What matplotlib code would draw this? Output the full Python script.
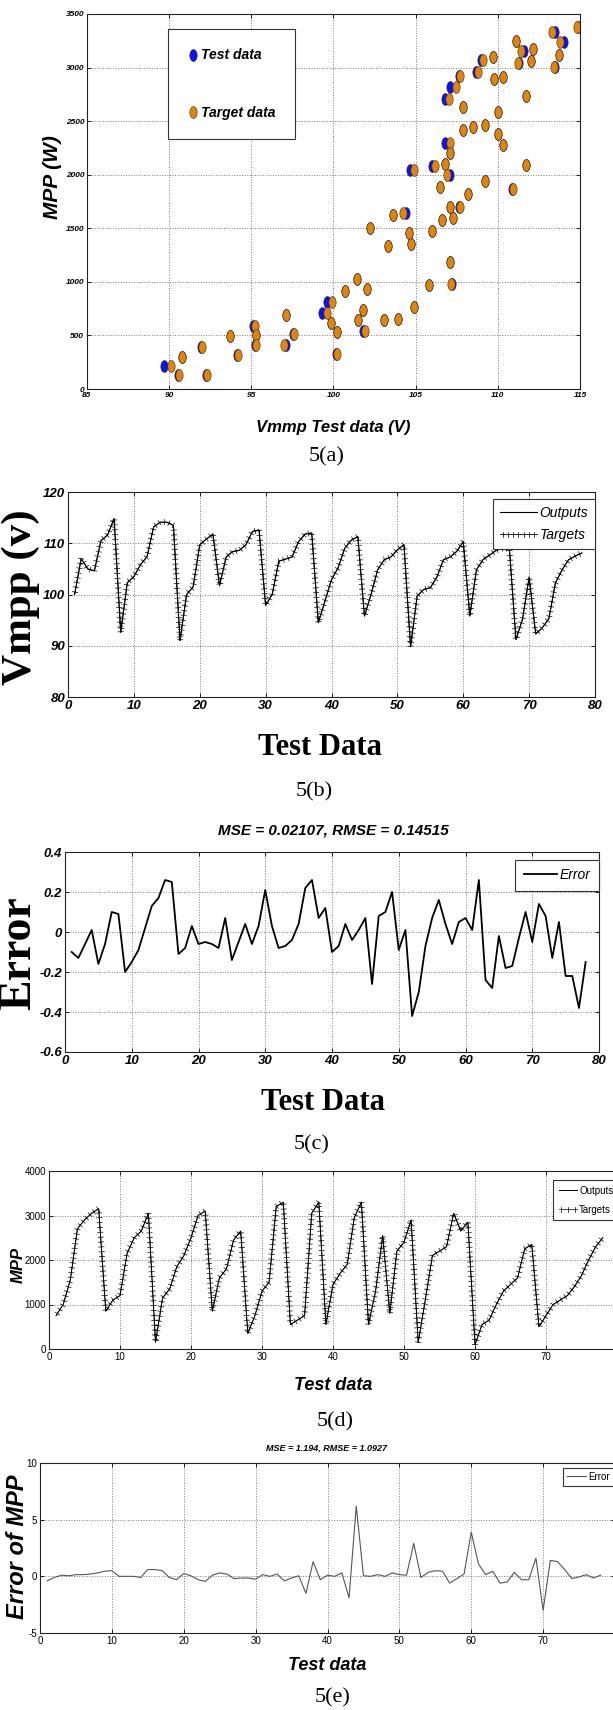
import numpy as np
import matplotlib
matplotlib.use('Agg')
import matplotlib.pyplot as plt
import matplotlib.patheffects as pe
from matplotlib.ticker import FuncFormatter

plt.rcParams['axes.unicode_minus'] = False

W, H = 613, 1710
NARROW = ['Liberation Sans Narrow', 'Liberation Sans', 'DejaVu Sans']
SANS = ['Liberation Sans', 'DejaVu Sans']
SERIF = ['Liberation Serif', 'DejaVu Serif']

# ---- 5(a): MPP against Vmpp, test vs target ----
vmmp_target = [114.8, 113.3, 113.8, 113.7, 113.4, 111.1, 111.4, 112.15, 111.2, 112.0,
               111.7, 111.7, 110.9, 109.7, 109.1, 108.8, 109.75, 110.3, 110.0, 110.0,
               110.3, 109.2, 108.5, 107.9, 107.9, 109.2, 108.2, 107.7, 107.45, 107.0,
               107.1, 107.1, 106.8, 106.9, 106.2, 106.5, 106.6, 107.3, 107.1, 107.7,
               104.9, 103.6, 104.2, 102.2, 104.6, 106.0, 103.3, 104.7, 107.1, 101.4,
               105.8, 107.15, 100.7, 102.05, 99.9, 99.6, 101.8, 104.9, 99.85, 101.5,
               103.1, 103.9, 100.2, 101.9, 95.2, 95.3, 95.3, 97.1, 97.0, 97.6,
               100.2, 93.7, 94.2, 92.0, 92.3, 90.8, 90.6, 90.1]
vmmp_test = [114.85, 113.5, 114.0, 113.7, 113.45, 111.1, 111.6, 112.15, 111.3, 112.0,
             111.7, 111.7, 110.85, 109.7, 109.0, 108.7, 109.75, 110.3, 110.0, 110.0,
             110.3, 109.2, 108.5, 107.9, 107.9, 109.2, 108.2, 107.65, 107.1, 106.8,
             106.8, 107.1, 106.8, 107.1, 106.0, 106.5, 106.6, 107.3, 107.1, 107.65,
             104.66, 103.6, 104.4, 102.2, 104.6, 106.0, 103.3, 104.7, 107.1, 101.4,
             105.8, 107.2, 100.7, 102.05, 99.6, 99.3, 101.8, 104.9, 99.85, 101.5,
             103.05, 103.9, 100.2, 101.8, 95.1, 95.3, 95.25, 97.1, 97.1, 97.55,
             100.15, 93.7, 94.15, 91.95, 92.25, 90.8, 90.55, 89.7]
mpp_points = [3376, 3335, 3242, 3118, 3003, 3252, 3158, 3174, 3040, 3059,
              2733, 2093, 1866, 3096, 3071, 2963, 2891, 2910, 2584, 2376,
              2276, 2463, 2444, 2419, 2630, 1938, 1817, 2922, 2817, 2705,
              2295, 2205, 2096, 1994, 2078, 1888, 1581, 1599, 1696, 1699,
              2040, 1627, 1643, 1505, 1452, 1476, 1337, 1356, 1187, 1022,
              972, 984, 916, 931, 809, 709, 734, 762, 619, 641,
              644, 656, 528, 538, 584, 500, 406, 694, 413, 516,
              331, 491, 316, 391, 128, 303, 128, 213]

# ---- 5(b) / 5(c): Vmpp over the test samples and its error ----
sample = list(range(1, 79))
vmpp_targets = [100.0, 107.0, 105.0, 104.6, 110.5, 111.6, 114.8, 92.6, 102.3, 103.5,
                105.8, 107.4, 113.2, 114.1, 114.1, 113.5, 91.0, 100.0, 101.5, 109.7,
                110.8, 111.8, 101.7, 107.3, 108.4, 108.6, 109.7, 112.3, 112.6, 97.9,
                100.0, 106.5, 106.9, 107.3, 110.3, 111.8, 112.0, 94.5, 98.7, 102.9,
                105.2, 109.0, 110.6, 111.3, 95.8, 100.0, 104.8, 106.8, 107.3, 108.7,
                109.7, 89.8, 99.7, 101.0, 101.3, 103.4, 106.8, 107.3, 108.4, 110.3,
                95.8, 104.8, 106.8, 107.7, 108.6, 109.0, 109.0, 91.2, 95.2, 103.4,
                92.3, 93.5, 95.3, 102.3, 104.8, 106.8, 107.5, 108.1]
vmpp_outputs = list(vmpp_targets)  # indistinguishable from the targets at this scale
vmpp_error = [-0.10, -0.13, -0.06, 0.01, -0.16, -0.06, 0.10, 0.09, -0.20, -0.15,
              -0.09, 0.02, 0.13, 0.17, 0.26, 0.25, -0.11, -0.08, 0.03, -0.06,
              -0.05, -0.06, -0.08, 0.07, -0.14, -0.05, 0.04, -0.06, 0.03, 0.21,
              0.03, -0.08, -0.07, -0.04, 0.04, 0.22, 0.26, 0.07, 0.12, -0.10,
              -0.07, 0.04, -0.04, 0.01, 0.07, -0.26, 0.08, 0.10, 0.20, -0.09,
              0.01, -0.42, -0.30, -0.07, 0.07, 0.16, 0.04, -0.06, 0.05, 0.07,
              0.01, 0.26, -0.24, -0.28, -0.02, -0.18, -0.17, -0.03, 0.10, -0.05,
              0.14, 0.08, -0.13, 0.05, -0.22, -0.22, -0.38, -0.15]

# ---- 5(d) / 5(e): MPP over the test samples and its error ----
mpp_targets = [750, 1000, 1550, 2700, 2900, 3050, 3150, 850, 1100, 1200,
               2150, 2500, 2650, 3050, 150, 1150, 1350, 1850, 2100, 2500,
               3000, 3100, 850, 1600, 1800, 2450, 2650, 350, 750, 1300,
               1500, 3200, 3300, 550, 650, 750, 3050, 3300, 550, 1450,
               1700, 1900, 2950, 3300, 550, 1300, 2550, 800, 2200, 2400,
               2900, 150, 1100, 2100, 2200, 2300, 3050, 2650, 2850, 100,
               550, 650, 1000, 1300, 1450, 1600, 2250, 2350, 500, 750,
               1000, 1100, 1200, 1400, 1650, 2000, 2300, 2500]
mpp_outputs = list(mpp_targets)
mpp_error = [-0.4, -0.1, 0.1, 0.05, 0.15, 0.15, 0.2, 0.3, 0.45, 0.5,
             0.0, 0.0, 0.0, -0.1, 0.6, 0.6, 0.5, -0.1, -0.3, 0.25,
             0.05, -0.3, -0.45, 0.1, 0.3, 0.2, -0.2, -0.15, -0.15, -0.25,
             0.15, 0.0, 0.2, -0.4, -0.15, 0.05, -1.5, 1.3, -0.3, 0.1,
             0.0, 0.3, -1.9, 6.2, 0.05, 0.0, 0.15, 0.0, 0.3, 0.15,
             0.1, 2.9, -0.1, 0.35, 0.5, 0.45, -0.6, -0.2, 0.2, 3.9,
             1.1, 0.15, 0.45, -0.6, -0.5, 0.35, -0.3, -0.3, 1.6, -3.0,
             1.4, 1.3, 0.6, -0.2, -0.05, 0.15, -0.15, 0.1]

fig = plt.figure(figsize=(W / 100, H / 100), dpi=100)


def box(l, t, r, b):
    return fig.add_axes([l / W, 1 - b / H, (r - l) / W, (b - t) / H])


def put(px, py, s, **kw):
    fig.text(px / W, 1 - py / H, s, ha='center', va='center', **kw)


def style(ax, size, weight='normal', fstyle='italic'):
    ax.grid(True, ls=':', color='#777777', lw=0.7)
    ax.set_axisbelow(True)
    ax.tick_params(direction='in', length=3, width=0.6, top=True, right=True,
                   labelsize=size, pad=2)
    for lab in ax.get_xticklabels() + ax.get_yticklabels():
        lab.set_family(NARROW)
        lab.set_weight(weight)
        lab.set_style(fstyle)
    for sp in ax.spines.values():
        sp.set_linewidth(0.8)
        sp.set_color('#222222')


def leg(ax, x, y, loc, size, weight='normal', **kw):
    lg = ax.legend(loc=loc, bbox_to_anchor=(x / W, 1 - y / H), bbox_transform=fig.transFigure,
                   prop=dict(family=NARROW, size=size, weight=weight, style='italic'),
                   fancybox=False, framealpha=1, edgecolor='#333333', borderaxespad=0, **kw)
    lg.get_frame().set_linewidth(0.8)
    return lg


ticked = [pe.Stroke(),
          pe.TickedStroke(spacing=3.5, angle=90, length=0.55, linewidth=0.5),
          pe.TickedStroke(spacing=3.5, angle=-90, length=0.55, linewidth=0.5)]

# ---------------- 5(a) ----------------
t = np.linspace(0, 2 * np.pi, 40)
ell = np.column_stack([0.62 * np.cos(t), np.sin(t)])
ax = box(87, 14, 580, 389)
ax.plot(vmmp_test, mpp_points, ls='none', marker=ell, ms=8.5, mfc='#0a14f0',
        mec='#202040', mew=0.4, label='Test data')
ax.plot(vmmp_target, mpp_points, ls='none', marker=ell, ms=8.5, mfc='#e08410',
        mec='#3a2a10', mew=0.4, label='Target data')
ax.set_xlim(85, 115)
ax.set_ylim(0, 3500)
ax.set_xticks(range(85, 116, 5))
ax.set_yticks(range(0, 3501, 500))
style(ax, 6, weight='bold')
leg(ax, 168, 29, 'upper left', 10, weight='bold', labelspacing=3.1, borderpad=1.4,
    handletextpad=0.2, handlelength=0.8, numpoints=1)
put(53, 177, 'MPP (W)', rotation=90, family=SANS, weight='bold', style='italic', fontsize=15)
put(333, 427, 'Vmmp Test data (V)', family=NARROW, weight='bold', style='italic', fontsize=12)
put(327, 457, '5(a)', family=SERIF, fontsize=16)

# ---------------- 5(b) ----------------
ax = box(68, 492, 595, 697)
ax.plot(sample, vmpp_outputs, color='k', lw=0.8, label='Outputs')
ax.plot(sample, vmpp_targets, color='k', lw=0.6, path_effects=ticked, label='Targets')
ax.set_xlim(0, 80)
ax.set_ylim(80, 120)
ax.set_xticks(range(0, 81, 10))
ax.set_yticks(range(80, 121, 10))
style(ax, 9.5, weight='bold')
leg(ax, 595, 499, 'upper right', 10, handlelength=2.6, handletextpad=0.2,
    borderpad=0.5, labelspacing=0.6)
put(21, 597, 'Vmpp (v)', rotation=90, family=SERIF, weight='bold', fontsize=31)
put(320, 747, 'Test Data', family=SERIF, weight='bold', fontsize=22)
put(314, 792, '5(b)', family=SERIF, fontsize=16)

# ---------------- 5(c) ----------------
ax = box(65, 852, 599, 1052)
ax.plot(sample, vmpp_error, color='k', lw=1.3, label='Error')
ax.set_xlim(0, 80)
ax.set_ylim(-0.6, 0.4)
ax.set_xticks(range(0, 81, 10))
ax.set_yticks([-0.6, -0.4, -0.2, 0, 0.2, 0.4])
ax.yaxis.set_major_formatter(FuncFormatter(lambda v, p: f'{v:g}'))
style(ax, 9.5, weight='bold')
leg(ax, 599, 860, 'upper right', 10, handlelength=2.4, handletextpad=0.2, borderpad=0.6)
put(333, 830, 'MSE = 0.02107, RMSE = 0.14515', family=NARROW, weight='bold',
    style='italic', fontsize=11)
put(19, 953, 'Error', rotation=90, family=SERIF, weight='bold', fontsize=33)
put(323, 1103, 'Test Data', family=SERIF, weight='bold', fontsize=22)
put(312, 1145, '5(c)', family=SERIF, fontsize=16)

# ---------------- 5(d) ----------------
ax = box(49, 1171, 617, 1349)
ax.plot(sample, mpp_outputs, color='k', lw=0.7, label='Outputs')
ax.plot(sample, mpp_targets, color='k', lw=0.5, path_effects=ticked, label='Targets')
ax.set_xlim(0, 80)
ax.set_ylim(0, 4000)
ax.set_xticks(range(0, 71, 10))
ax.set_yticks(range(0, 4001, 1000))
style(ax, 7, weight='normal', fstyle='normal')
lg = leg(ax, 553, 1180, 'upper left', 7, handlelength=1.9, handletextpad=0.2,
         borderpad=0.6, labelspacing=0.9)
for tx in lg.get_texts():
    tx.set_style('normal')
put(18, 1265, 'MPP', rotation=90, family=SANS, weight='bold', style='italic', fontsize=12)
put(333, 1385, 'Test data', family=NARROW, weight='bold', style='italic', fontsize=13)
put(335, 1422, '5(d)', family=SERIF, fontsize=16)

# ---------------- 5(e) ----------------
ax = box(40, 1463, 615, 1633)
ax.plot(sample, mpp_error, color='#555555', lw=0.8, label='Error')
ax.set_xlim(0, 80)
ax.set_ylim(-5, 10)
ax.set_xticks(range(0, 71, 10))
ax.set_yticks([-5, 0, 5, 10])
style(ax, 7, weight='normal', fstyle='normal')
lg = leg(ax, 563, 1468, 'upper left', 7, handlelength=2.0, handletextpad=0.2, borderpad=0.4)
for tx in lg.get_texts():
    tx.set_style('normal')
put(327, 1448, 'MSE = 1.194, RMSE = 1.0927', family=NARROW, weight='bold',
    style='italic', fontsize=6.5)
put(18, 1547, 'Error of MPP', rotation=90, family=SANS, weight='bold', style='italic', fontsize=17)
put(327, 1665, 'Test data', family=NARROW, weight='bold', style='italic', fontsize=13)
put(333, 1698, '5(e)', family=SERIF, fontsize=16)

fig.savefig('out.png', dpi=100)
